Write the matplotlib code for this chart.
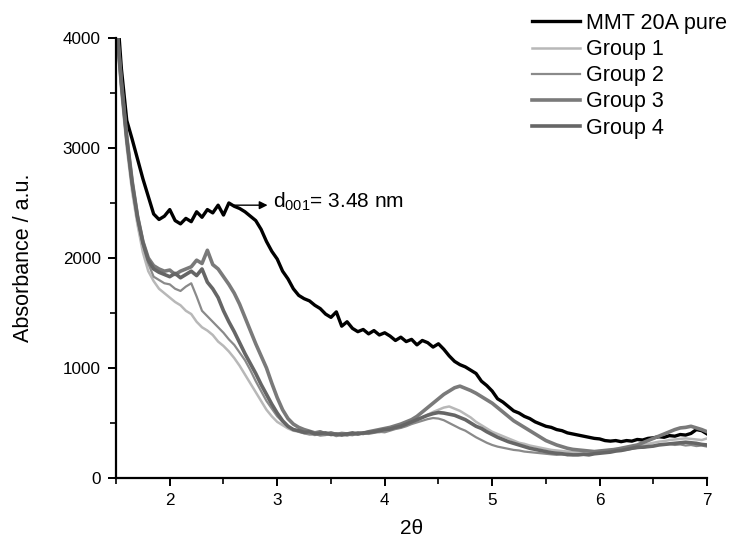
import numpy as np
import matplotlib
matplotlib.use("Agg")
import matplotlib.pyplot as plt

plt.rcParams['font.family'] = ['Liberation Sans', 'DejaVu Sans']

two_theta = np.round(np.linspace(1.5, 7.0, 111), 3)

pure = [4400, 3720, 3250, 3080, 2900, 2720, 2560, 2400, 2350, 2380,
        2440, 2340, 2310, 2360, 2330, 2420, 2370, 2440, 2410, 2480,
        2390, 2500, 2470, 2450, 2420, 2380, 2340, 2260, 2150, 2060,
        1990, 1880, 1810, 1720, 1660, 1630, 1610, 1570, 1540, 1490,
        1460, 1510, 1380, 1420, 1360, 1330, 1350, 1310, 1340, 1300,
        1320, 1290, 1250, 1280, 1240, 1260, 1210, 1250, 1230, 1190,
        1220, 1170, 1110, 1060, 1030, 1010, 980, 950, 880, 840,
        790, 720, 690, 650, 610, 590, 560, 540, 510, 490,
        470, 460, 440, 430, 410, 400, 390, 380, 370, 360,
        355, 340, 335, 340, 330, 340, 335, 350, 345, 360,
        365, 375, 370, 385, 380, 395, 390, 405, 440, 430,
        400]

group1 = [4100, 3500, 3000, 2600, 2300, 2050, 1880, 1790, 1720, 1680,
          1640, 1600, 1570, 1520, 1490, 1420, 1370, 1340, 1300, 1240,
          1200, 1150, 1090, 1020, 940, 860, 780, 700, 620, 560,
          510, 480, 450, 430, 420, 410, 400, 390, 410, 395,
          400, 385, 400, 390, 395, 405, 400, 410, 420, 415,
          430, 440, 450, 460, 480, 500, 520, 550, 575, 600,
          620, 640, 650, 630, 610, 580, 550, 510, 480, 450,
          420, 400, 380, 360, 340, 320, 310, 295, 285, 275,
          265, 255, 250, 245, 240, 235, 235, 230, 235, 240,
          245, 250, 255, 265, 270, 280, 285, 295, 300, 310,
          320, 330, 335, 345, 350, 355, 360, 355, 350, 345,
          360]

group2 = [4150, 3550, 3050, 2650, 2350, 2120, 1950, 1830, 1800, 1770,
          1760, 1720, 1700, 1740, 1770, 1650, 1520, 1470, 1420, 1370,
          1320, 1260, 1210, 1140, 1070, 980, 880, 790, 700, 630,
          560, 510, 470, 440, 420, 405, 395, 400, 385, 390,
          400, 380, 395, 385, 400, 395, 405, 400, 410, 420,
          415, 430, 445, 455, 470, 490, 505, 520, 535, 545,
          540, 525, 500, 475, 450, 430, 400, 370, 345, 320,
          300, 285, 275, 265, 255, 250, 240, 235, 230, 225,
          220, 215, 210, 215, 205, 210, 215, 210, 220, 225,
          230, 235, 240, 245, 250, 255, 265, 270, 275, 285,
          290, 300, 305, 310, 300, 305, 295, 300, 290, 295,
          285]

group3 = [4200, 3600, 3100, 2700, 2380, 2150, 2000, 1930, 1900, 1880,
          1890, 1850, 1880, 1900, 1920, 1980, 1950, 2070, 1940, 1900,
          1830, 1760, 1680, 1580, 1460, 1340, 1220, 1110, 1000, 860,
          730, 620, 540, 490, 460, 440, 425, 410, 420, 400,
          410, 395, 405, 400, 395, 410, 405, 420, 430, 440,
          450, 460, 475, 490, 510, 530, 560, 600, 640, 680,
          720, 760, 790, 820, 835, 815, 795, 770, 740, 710,
          680, 640, 600, 560, 520, 490, 460, 430, 400, 370,
          340, 320, 300, 285, 270, 260, 255, 250, 245, 240,
          245, 250, 255, 260, 270, 280, 290, 300, 320, 340,
          360, 380, 400, 420, 440, 455, 460, 470, 455, 440,
          420]

group4 = [4180, 3580, 3080, 2680, 2370, 2140, 1980, 1900, 1870, 1850,
          1830, 1860, 1820, 1850, 1880, 1840, 1900, 1780, 1720, 1640,
          1520, 1420, 1330, 1230, 1130, 1040, 950, 850, 760, 670,
          590, 520, 470, 440, 430, 415, 420, 400, 405, 410,
          395, 400, 390, 400, 410, 400, 410, 415, 420, 430,
          440, 445, 460, 470, 490, 510, 530, 550, 570, 585,
          595, 590, 580, 570, 550, 530, 500, 470, 450, 420,
          395, 370, 350, 330, 315, 300, 285, 270, 260, 250,
          240, 230, 225, 220, 215, 210, 210, 215, 210, 220,
          225, 230, 235, 245, 250, 260, 270, 280, 280, 285,
          290, 300, 305, 310, 315, 320, 325, 320, 315, 305,
          300]

labels = ["MMT 20A pure", "Group 1", "Group 2", "Group 3", "Group 4"]
series = [pure, group1, group2, group3, group4]
colors = ["#000000", "#b8b8b8", "#8a8a8a", "#7a7a7a", "#666666"]
widths = [2.4, 1.8, 1.6, 2.6, 2.6]

fig = plt.figure(figsize=(7.32, 5.41), dpi=100)
ax = fig.add_axes([0.1585, 0.1165, 0.8075, 0.8133])

for ys, lab, c, w in zip(series, labels, colors, widths):
    ax.plot(two_theta, ys, color=c, lw=w, label=lab)

ax.set_xlim(1.5, 7)
ax.set_ylim(0, 4000)
ax.set_xticks([2, 3, 4, 5, 6, 7])
ax.set_xticks(np.arange(1.5, 7.01, 0.5), minor=True)
ax.set_yticks([0, 1000, 2000, 3000, 4000])
ax.set_yticks(np.arange(0, 4001, 500), minor=True)
for s in ["top", "right"]:
    ax.spines[s].set_visible(False)
for s in ["left", "bottom"]:
    ax.spines[s].set_linewidth(1.6)
ax.tick_params(which="major", direction="out", length=6, width=1.4, labelsize=12.3, pad=5)
ax.tick_params(which="minor", direction="out", length=4, width=1.2)

ax.set_xlabel("2θ", fontsize=15, va="center")
ax.xaxis.set_label_coords(0.5, -0.114)
ax.set_ylabel("Absorbance / a.u.", fontsize=15.5, va="center")
ax.yaxis.set_label_coords(-0.157, 0.5)

ax.annotate("", xy=(2.91, 2480), xytext=(2.6, 2480),
            arrowprops=dict(arrowstyle="-|>", color="black", lw=1.0,
                            mutation_scale=12, shrinkA=0, shrinkB=0))
ax.text(2.96, 2510, "d$_{\\mathregular{001}}$= 3.48 nm", fontsize=15,
        va="center", ha="left")

leg = fig.legend(loc="upper right", bbox_to_anchor=(1.02, 1.012), frameon=False,
                 fontsize=15.5, handlelength=2.2, labelspacing=0.24,
                 handletextpad=0.3)

fig.savefig("out.png", dpi=100)
